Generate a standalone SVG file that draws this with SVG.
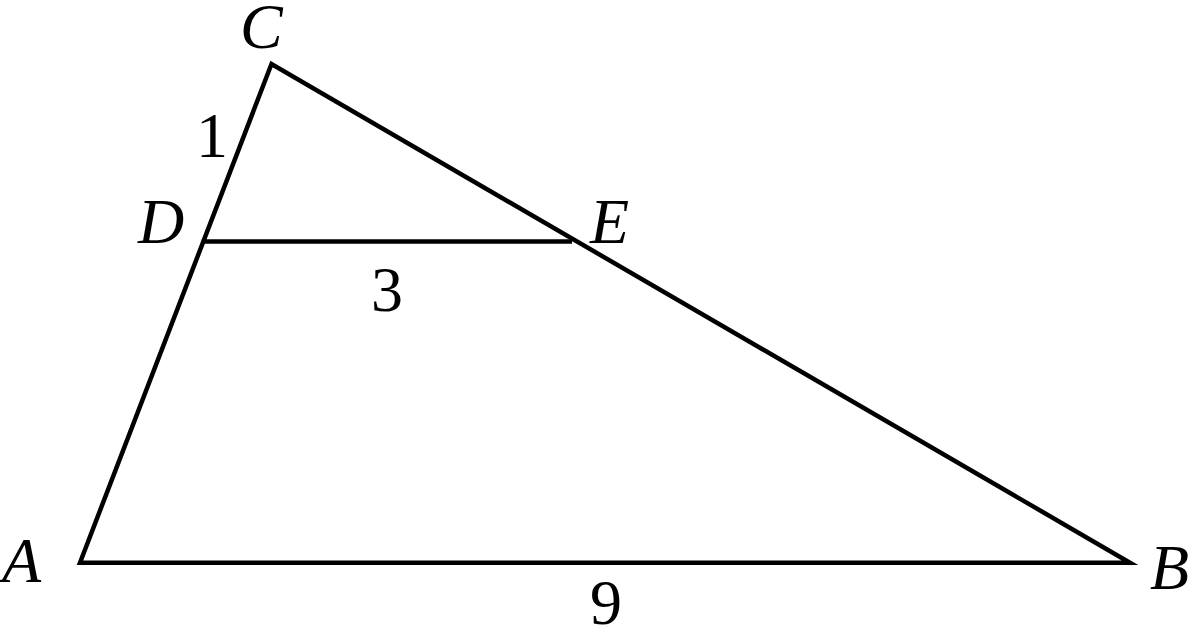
<svg xmlns="http://www.w3.org/2000/svg" width="1194" height="639" viewBox="0 0 1194 639">
<style>
.ln{stroke:#000;stroke-width:4.5;fill:none;stroke-linejoin:miter;stroke-linecap:butt}
.lb{font-family:"Liberation Serif","Times New Roman",serif;font-size:64px;fill:#000}
.it{font-style:italic}
</style>
<rect width="1194" height="639" fill="#fff"/>
<g id="edges">
<polygon class="ln" points="271.5,64 80,562.7 1130,562.7"/>
<line class="ln" x1="201.7" y1="241.5" x2="572" y2="241.5"/>
</g>
<g id="labels">
<text class="lb it" x="240" y="48" font-size="62">C</text>
<text class="lb" x="196" y="157">1</text>
<text class="lb it" x="138" y="243">D</text>
<text class="lb it" x="590" y="243">E</text>
<text class="lb" x="371" y="311">3</text>
<text class="lb it" x="2" y="582">A</text>
<text class="lb it" x="1150" y="589">B</text>
<text class="lb" x="590" y="624">9</text>
</g>
</svg>
